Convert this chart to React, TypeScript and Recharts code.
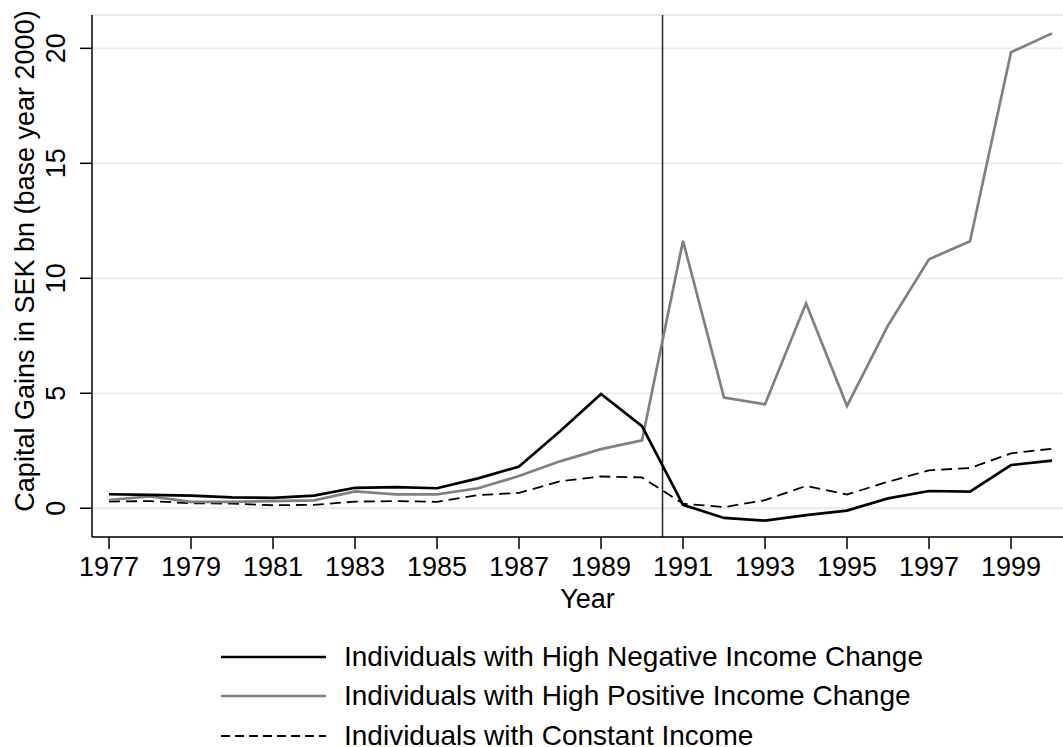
import React from 'react'
import { LineChart, Line, XAxis, YAxis, CartesianGrid, ReferenceLine, Legend } from 'recharts'

// values, SEK bn (base year 2000)
const years = [1977, 1978, 1979, 1980, 1981, 1982, 1983, 1984, 1985, 1986, 1987, 1988, 1989, 1990, 1991, 1992, 1993, 1994, 1995, 1996, 1997, 1998, 1999, 2000]
const highNegative = [0.61, 0.58, 0.55, 0.47, 0.45, 0.55, 0.89, 0.92, 0.87, 1.3, 1.81, 3.35, 4.97, 3.57, 0.15, -0.42, -0.54, -0.3, -0.1, 0.43, 0.75, 0.72, 1.88, 2.07]
const highPositive = [0.36, 0.52, 0.28, 0.28, 0.31, 0.34, 0.73, 0.6, 0.6, 0.87, 1.4, 2.04, 2.57, 2.95, 11.63, 4.81, 4.52, 8.91, 4.45, 7.95, 10.83, 11.61, 19.83, 20.65]
const constantIncome = [0.29, 0.31, 0.22, 0.2, 0.13, 0.15, 0.29, 0.31, 0.28, 0.57, 0.67, 1.17, 1.38, 1.34, 0.2, 0.05, 0.35, 0.97, 0.6, 1.15, 1.65, 1.75, 2.39, 2.59]

const xTicks = [1977, 1979, 1981, 1983, 1985, 1987, 1989, 1991, 1993, 1995, 1997, 1999]
const yTicks = [0, 5, 10, 15, 20]
const breakYear = 1990.5

const seriesNames = [
    'Individuals with High Negative Income Change',
    'Individuals with High Positive Income Change',
    'Individuals with Constant Income',
]

const data = years.map((year, i) => ({
    year,
    neg: highNegative[i],
    pos: highPositive[i],
    cons: constantIncome[i],
}))

const FONT = '"Liberation Sans", Arial, Helvetica, sans-serif'

const XTick = (props: any) => {
    const { x, y, payload } = props
    return (
        <text x={x} y={y} dy={21.5} textAnchor="middle" fontSize={27} fontFamily={FONT} fill="#000">
            {payload.value}
        </text>
    )
}

const YTick = (props: any) => {
    const { x, y, payload } = props
    return (
        <text
            transform={`translate(${x - 13}, ${y}) rotate(-90)`}
            textAnchor="middle"
            fontSize={27}
            fontFamily={FONT}
            fill="#000"
        >
            {payload.value}
        </text>
    )
}

const legendItems = [
    { name: seriesNames[0], color: '#000000', width: 2.6, dash: undefined },
    { name: seriesNames[1], color: '#808080', width: 2.6, dash: undefined },
    { name: seriesNames[2], color: '#000000', width: 1.8, dash: '9 5' },
]

const LegendBox = () => (
    <div style={{ position: 'relative', width: 1063, height: 130, fontFamily: FONT }}>
        {legendItems.map((item, i) => (
            <div
                key={item.name}
                style={{ position: 'absolute', left: 221, top: 26 + i * 39.3, height: 28, display: 'flex', alignItems: 'center' }}
            >
                <svg width={105} height={10}>
                    <line x1={0} y1={5} x2={105} y2={5} stroke={item.color} strokeWidth={item.width} strokeDasharray={item.dash} />
                </svg>
                <span style={{ marginLeft: 18, fontSize: 28, lineHeight: '28px', color: '#000', whiteSpace: 'nowrap' }}>{item.name}</span>
            </div>
        ))}
    </div>
)

export default function App() {
    return (
        <div style={{ position: 'absolute', left: 0, top: 0, width: 1063, height: 747, background: '#fff' }}>
            <LineChart width={1063} height={747} data={data} margin={{ top: 15, right: 0, left: 0, bottom: 0 }}>
                <CartesianGrid vertical={false} stroke="#e4edef" strokeWidth={1.8} />
                <XAxis
                    dataKey="year"
                    type="number"
                    domain={[1976.585, 2000.268]}
                    allowDataOverflow
                    ticks={xTicks}
                    interval={0}
                    height={80}
                    tickSize={12}
                    tickMargin={5}
                    stroke="#000"
                    strokeWidth={1.5}
                    tick={<XTick />}
                    label={({ viewBox }: any) => (
                        <text
                            x={viewBox.x + viewBox.width / 2 + 10}
                            y={viewBox.y + 71}
                            textAnchor="middle"
                            fontSize={27}
                            fontFamily={FONT}
                            fill="#000"
                        >
                            Year
                        </text>
                    )}
                />
                <YAxis
                    type="number"
                    domain={[-1.25, 21.45]}
                    allowDataOverflow
                    ticks={yTicks}
                    width={92}
                    tickSize={12}
                    tickMargin={2}
                    stroke="#000"
                    strokeWidth={1.5}
                    tick={<YTick />}
                    label={({ viewBox }: any) => (
                        <text
                            transform={`translate(33.5, ${viewBox.y + viewBox.height / 2 - 15}) rotate(-90)`}
                            textAnchor="middle"
                            fontSize={27}
                            fontFamily={FONT}
                            fill="#000"
                        >
                            Capital Gains in SEK bn (base year 2000)
                        </text>
                    )}
                />
                <ReferenceLine x={breakYear} stroke="#222" strokeWidth={1.5} />
                <Line type="linear" dataKey="cons" name={seriesNames[2]} stroke="#000" strokeWidth={1.8} strokeDasharray="11 6" dot={false} isAnimationActive={false} />
                <Line type="linear" dataKey="pos" name={seriesNames[1]} stroke="#808080" strokeWidth={2.7} dot={false} isAnimationActive={false} />
                <Line type="linear" dataKey="neg" name={seriesNames[0]} stroke="#000" strokeWidth={2.7} dot={false} isAnimationActive={false} />
                <Legend verticalAlign="bottom" height={130} wrapperStyle={{ left: 0, width: 1063, height: 130 }} content={<LegendBox />} />
            </LineChart>
        </div>
    )
}
